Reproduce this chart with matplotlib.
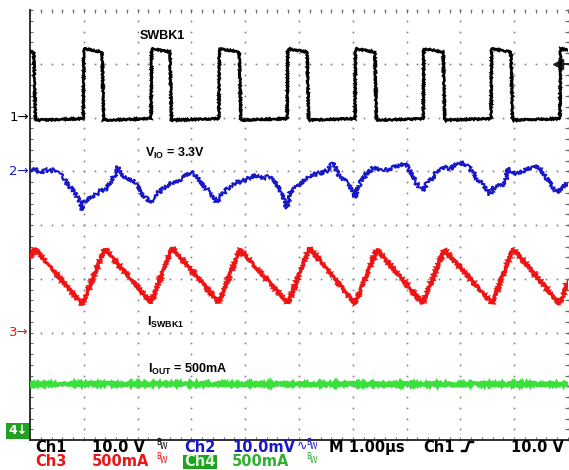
import numpy as np
import matplotlib
matplotlib.use("Agg")
import matplotlib.pyplot as plt
from matplotlib.transforms import blended_transform_factory
from matplotlib.lines import Line2D
from matplotlib.patches import Rectangle

plt.rcParams['mathtext.fontset'] = 'custom'
plt.rcParams['mathtext.rm'] = 'Liberation Sans:bold'
plt.rcParams['mathtext.it'] = 'Liberation Sans:bold'
plt.rcParams['mathtext.bf'] = 'Liberation Sans:bold'

W, H = 569, 470

# scope setup
ch_scale = {1: 10.0, 2: 10.0, 3: 500.0, 4: 500.0}    # V, mV, mA, mA per div
ch_offset = {1: 2.0, 2: 1.0, 3: -2.0, 4: -3.96}      # ground marker, divisions
trig_level = 10.0                                    # V on Ch1

# Ch1 - switch node SWBK1 (time in us, volts)
sw_fall = [0.07, 1.34, 2.60, 3.89, 5.15, 6.41, 7.68, 8.94]
sw_rise = [0.99, 2.25, 3.51, 4.78, 6.04, 7.31, 8.57, 9.85]
sw_high_start, sw_high_end = 12.8, 12.2
sw_low_start, sw_low_end = -0.5, -0.2

# Ch2 - output ripple V_IO (AC, mV)
ripple_t = [0.00, 0.09, 0.19, 0.28, 0.37, 0.46, 0.56, 0.65, 0.74, 0.84, 0.89, 0.93,
            0.97, 1.00, 1.06, 1.15, 1.23, 1.30, 1.39, 1.49, 1.56, 1.60, 1.64, 1.69,
            1.78, 1.91, 2.01, 2.10, 2.17, 2.23, 2.30, 2.38, 2.47, 2.57, 2.70, 2.83,
            2.97, 3.05, 3.12, 3.23, 3.35, 3.42, 3.48, 3.55, 3.64, 3.75, 3.87, 3.96,
            4.09, 4.20, 4.31, 4.42, 4.52, 4.59, 4.67, 4.72, 4.78, 4.83, 4.93, 5.02,
            5.13, 5.26, 5.39, 5.52, 5.59, 5.65, 5.71, 5.80, 5.91, 5.99, 6.04, 6.10,
            6.19, 6.28, 6.38, 6.51, 6.64, 6.75, 6.88, 6.97, 7.06, 7.16, 7.25, 7.30,
            7.38, 7.49, 7.58, 7.68, 7.81, 7.92, 8.05, 8.14, 8.23, 8.33, 8.44, 8.55,
            8.62, 8.74, 8.83, 8.88, 8.96, 9.07, 9.18, 9.29, 9.37, 9.46, 9.55, 9.67,
            9.76, 9.81, 9.89, 9.96, 10.0]
ripple_mv = [0.19, 0.56, -0.37, 0.19, 0.00, 0.37, -0.37, -1.67, -2.79, -4.09, -4.84, -5.95,
             -7.26, -5.77, -5.40, -4.65, -4.28, -3.53, -3.53, -2.05, -1.12, -0.19, 0.93, -0.56,
             -1.30, -1.67, -2.79, -4.47, -5.02, -5.95, -4.84, -4.09, -3.16, -2.42, -1.86, -1.30,
             -0.19, -0.56, -1.30, -2.79, -4.09, -5.02, -5.77, -4.47, -3.53, -2.42, -1.86, -1.86,
             -1.12, -0.74, -1.30, -1.12, -1.67, -2.42, -4.09, -5.21, -6.88, -3.91, -3.16, -2.42,
             -1.30, -0.74, -0.37, 0.00, 1.12, 1.67, -0.19, -1.30, -2.42, -3.53, -5.02, -2.79,
             -1.30, -0.19, 0.74, 0.19, 0.37, 0.74, 1.12, 1.67, 0.19, -2.05, -3.16, -3.72,
             -2.05, -1.30, 0.19, 0.74, 0.56, 1.30, 1.67, 0.93, -0.19, -1.67, -2.79, -4.28,
             -2.98, -2.60, -2.23, 0.56, -0.19, -0.56, 0.19, 0.56, 1.12, 0.56, -0.56, -2.23,
             -3.53, -4.09, -2.79, -2.42, -2.42]

# Ch3 - inductor current I_SWBK1 (mA)
il_t = [0.00, 0.09, 0.97, 1.39, 2.25, 2.64, 3.51, 3.90, 4.80, 5.19, 6.04, 6.45,
        7.30, 7.70, 8.59, 8.98, 9.85, 10.0]
il_ma = [698, 781, 260, 781, 279, 791, 279, 772, 270, 791, 270, 772,
         270, 772, 270, 781, 260, 474]

# Ch4 - output current I_OUT (mA)
iout_t = [0.0, 2.5, 5.0, 7.5, 10.0]
iout_ma = [500, 502, 500, 498, 500]

c_blue = '#1818c8'
c_red = '#ee1414'
c_green = '#3ce03c'
c_gtext = '#30b030'
c_gbox = '#22a022'

fig = plt.figure(figsize=(W / 100, H / 100), dpi=100)
ax = fig.add_axes([30 / W, 30 / H, 538 / W, 430 / H])
ax.set_xlim(0, 10)
ax.set_ylim(-4, 4)


def to_div(vals, ch):
    return ch_offset[ch] + np.asarray(vals, dtype=float) / ch_scale[ch]


# dotted graticule
gx, gy = [], []
sub = np.arange(0, 10.001, 0.2)
subv = np.arange(-4, 4.001, 0.2)
for yl in range(-3, 5):
    gx += list(sub); gy += [yl] * len(sub)
for xl in range(1, 11):
    gx += [xl] * len(subv); gy += list(subv)
ax.plot(gx, gy, ls='none', marker='s', ms=1.2, mew=0, color='#808080', clip_on=False, zorder=1)

for s in ['top', 'right']:
    ax.spines[s].set_visible(False)
for s in ['left', 'bottom']:
    ax.spines[s].set_color('#303030')
    ax.spines[s].set_linewidth(1.4)
ax.set_xticks(range(0, 11))
ax.set_yticks(range(-4, 5))
ax.set_xticks(sub, minor=True)
ax.set_yticks(subv, minor=True)
ax.tick_params(which='both', direction='in', length=2.4, width=0.8, color='#6a6a6a',
               top=True, right=True, labelbottom=False, labelleft=False)

# Ch1 polyline from the edges
t1, v1 = [0.0], [12.4]
for k, f in enumerate(sw_fall):
    r = sw_rise[k]
    t1 += [f, f + 0.03, r, r + 0.01]
    v1 += [sw_high_end, sw_low_start, sw_low_end, sw_high_start]
t1.append(10.0); v1.append(12.6)

traces = [
    (t1, to_div(v1, 1), 'black', 1.9, (0.7, 2.0, 2.0)),
    (ripple_t, to_div(ripple_mv, 2), c_blue, 1.5, (2.2, 2.0, 2.0)),
    (il_t, to_div(il_ma, 3), c_red, 2.2, (1.2, 2.0, 2.0)),
    (iout_t, to_div(iout_ma, 4), c_green, 3.0, (1.3, 2.0, 2.0)),
]
for tt, yy, col, lw, sk in traces:
    ln, = ax.plot(tt, yy, color=col, lw=lw, zorder=3, solid_joinstyle='miter')
    ln.set_sketch_params(*sk)

# trigger level marker on the right edge
trig_y = ch_offset[1] + trig_level / ch_scale[1]
btr = blended_transform_factory(ax.transAxes, ax.transData)
ax.plot([0.986, 1.0], [trig_y, trig_y], color='#202020', lw=1.4, transform=btr, clip_on=False)
ax.plot([0.982], [trig_y], marker='<', ms=7, color='#202020', transform=btr, clip_on=False)

# ground markers at the left
bfig = blended_transform_factory(fig.transFigure, ax.transData)
for ch, col in [(1, 'black'), (2, c_blue), (3, c_red)]:
    ax.text(29 / W, ch_offset[ch], f'{ch}\u2192', color=col, fontsize=9.5, ha='right',
            va='center', transform=bfig, clip_on=False)
fig.text(8 / W, 1 - 431 / H, '4\u2193', color='white', fontsize=9, fontweight='bold',
         va='center', ha='left',
         bbox=dict(boxstyle='square,pad=0.12', fc=c_gbox, ec='none'))


def ftext(x, y, s, **kw):
    fig.text(x / W, 1 - y / H, s, **kw)


# labels on the screen
lab = dict(fontfamily='Liberation Sans', fontweight='bold', fontsize=9, va='center', ha='left')
ftext(140, 36, 'SWBK1', **lab)
ftext(145, 153, r'V$_{\rm IO}$ = 3.3V', **lab)
ftext(147, 322, r'I$_{\rm SWBK1}$', **lab)
ftext(148, 369, r'I$_{\rm OUT}$ = 500mA', **lab)

# readout rows
ro = dict(fontfamily='DejaVu Sans', fontsize=10.5, fontweight='bold', va='baseline', ha='left')
row1, row2 = 452, 466


def bw(x, y, col):
    ftext(x, y - 7, 'B', color=col, fontsize=5.5, va='baseline', ha='left')
    ftext(x + 4, y - 3, 'W', color=col, fontsize=5.5, va='baseline', ha='left')


ftext(35, row1, 'Ch1', color='black', **ro)
ftext(92, row1, '10.0 V', color='black', **ro)
bw(156, row1, 'black')
ftext(184, row1, 'Ch2', color=c_blue, **ro)
ftext(232, row1, '10.0mV', color=c_blue, **ro)
ftext(297, row1 - 2, '\u223f', color=c_blue, fontfamily='DejaVu Sans', fontsize=9,
      va='baseline', ha='left')
bw(306, row1, c_blue)
ftext(329, row1, 'M 1.00\u00b5s', color='black', **ro)
ftext(423, row1, 'Ch1', color='black', **ro)
fig.add_artist(Line2D(np.array([462, 466, 469, 473]) / W,
                      1 - np.array([451, 451, 442, 442]) / H, color='black', lw=1.8))
ftext(511, row1, '10.0 V', color='black', **ro)

ftext(35, row2, 'Ch3', color=c_red, **ro)
ftext(92, row2, '500mA', color=c_red, **ro)
bw(156, row2, c_red)
fig.add_artist(Rectangle((183 / W, 1 / H), 34 / W, 14 / H, transform=fig.transFigure,
                         fc=c_gbox, ec='none'))
ftext(184, row2, 'Ch4', color='#d6f6d6', **ro)
ftext(232, row2, '500mA', color=c_gtext, **ro)
bw(306, row2, c_gtext)

fig.savefig('out.png', dpi=100, facecolor='white')
